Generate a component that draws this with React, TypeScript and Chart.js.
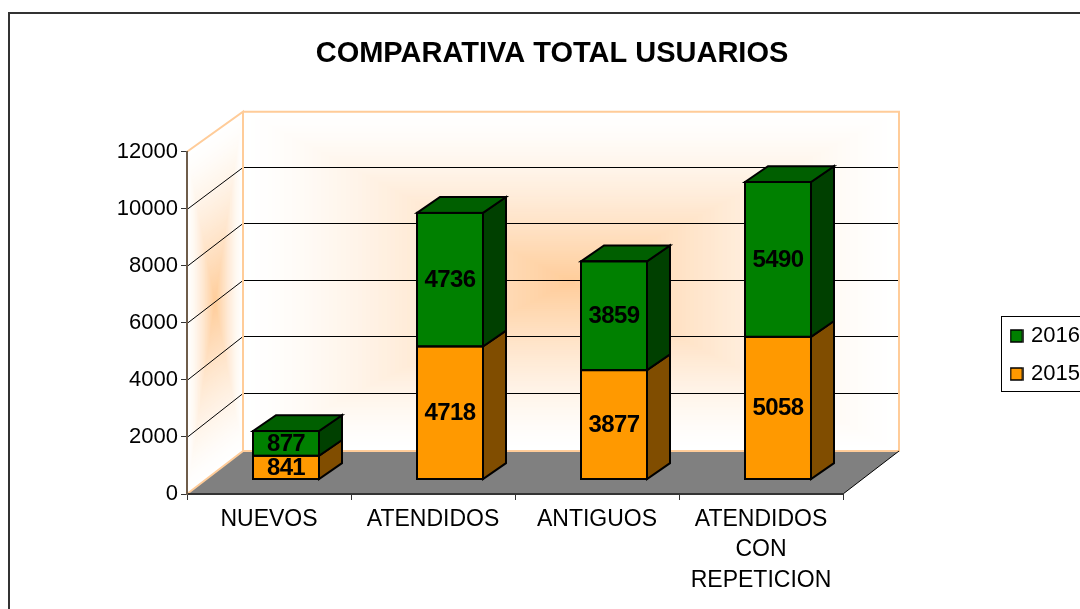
import React, { useEffect, useRef } from "react";
import { Chart, registerables } from "chart.js";

Chart.register(...registerables);

const categories = ["NUEVOS", "ATENDIDOS", "ANTIGUOS", ["ATENDIDOS", "CON", "REPETICION"]];
const values2015 = [841, 4718, 3877, 5058];
const values2016 = [877, 4736, 3859, 5490];
const yTicks = [0, 2000, 4000, 6000, 8000, 10000, 12000];
const titleText = "COMPARATIVA TOTAL USUARIOS";
const FONT = "'Liberation Sans', Arial, sans-serif";

const DEPTH_X = 56, DEPTH_BACK_FLOOR = 43, DEPTH_TOP = 40; // wall depth
const BAR_DX = 17, BAR_BASE_Y = 479.5, BAR_FORESHORTEN = 0.989, BAR_DEPTH_X = 23, BAR_DEPTH_Y = 16;

function rectGradient(ctx: CanvasRenderingContext2D, w: number, h: number, falloff: number) {
  // rectangular "from centre" gradient painted in a local w×h box
  const steps = 80;
  for (let i = 0; i <= steps; i++) {
    const t = i / steps; // 0 = edge, 1 = centre
    const k = Math.pow(t, falloff);
    const g = Math.round(255 + (204 - 255) * k);
    const b = Math.round(255 + (153 - 255) * k);
    ctx.fillStyle = `rgb(255,${g},${b})`;
    const ix = (w / 2) * t, iy = (h / 2) * t;
    ctx.fillRect(ix, iy, w - 2 * ix, h - 2 * iy);
  }
}

function swatch(color: string) {
  const c = document.createElement("canvas");
  c.width = 14; c.height = 14;
  const g = c.getContext("2d") as CanvasRenderingContext2D;
  g.fillStyle = color;
  g.fillRect(1, 1, 12, 12);
  g.strokeStyle = "#000";
  g.lineWidth = 1.5;
  g.strokeRect(1, 1, 12, 12);
  return c;
}

const scenePlugin = {
  id: "scene3d",
  afterLayout(chart: any) {
    const lg = chart.legend;
    if (lg) {
      lg.left = 997; lg.right = 1100; lg.top = 309; lg.bottom = 500;
    }
    const tt = chart.titleBlock;
    if (tt) {
      tt.left = 104; tt.right = 1000; tt.top = 37; tt.bottom = 71;
    }
  },
  beforeDraw(chart: any) {
    const ctx: CanvasRenderingContext2D = chart.ctx;
    const y = chart.scales.y, x = chart.scales.x;
    const L = x.left, R = x.right, y0 = y.getPixelForValue(0), yT = y.getPixelForValue(12000);
    const bL = L + DEPTH_X, bR = R + DEPTH_X, bB = y0 - DEPTH_BACK_FLOOR, bT = yT - DEPTH_TOP;
    const backY = (py: number) => bB - ((y0 - py) * (bB - bT)) / (y0 - yT);
    ctx.save();
    ctx.fillStyle = "#fff";
    ctx.fillRect(0, 0, chart.width, chart.height);
    // outer frame
    ctx.strokeStyle = "#333";
    ctx.lineWidth = 2;
    ctx.strokeRect(9, 13, 1300, 900);

    // back wall
    ctx.save();
    ctx.translate(bL, bT);
    rectGradient(ctx, bR - bL, bB - bT, 1.4);
    ctx.restore();
    // left wall
    ctx.save();
    ctx.beginPath();
    ctx.moveTo(L, yT); ctx.lineTo(bL, bT); ctx.lineTo(bL, bB); ctx.lineTo(L, y0); ctx.closePath();
    ctx.clip();
    ctx.transform(1, -41.5 / DEPTH_X, 0, 1, L, yT);
    rectGradient(ctx, DEPTH_X, y0 - yT, 1.4);
    ctx.restore();

    // gridlines through the y scale
    ctx.strokeStyle = "#000";
    ctx.lineWidth = 1;
    for (const v of yTicks) {
      if (v === 0 || v === 12000) continue;
      const py = Math.round(y.getPixelForValue(v));
      const by = Math.round(backY(py) - 1.5) + 0.5;
      ctx.beginPath();
      ctx.moveTo(L, py + 0.5);
      ctx.lineTo(bL, by);
      ctx.lineTo(bR, by);
      ctx.stroke();
    }

    // floor
    ctx.fillStyle = "#808080";
    ctx.beginPath();
    ctx.moveTo(L, y0); ctx.lineTo(bL, bB); ctx.lineTo(bR, bB); ctx.lineTo(R, y0); ctx.closePath();
    ctx.fill();

    // wall edges
    ctx.strokeStyle = "#FFCC99";
    ctx.lineWidth = 2;
    ctx.beginPath();
    ctx.moveTo(L, y0); ctx.lineTo(bL, bB); ctx.lineTo(bL, bT); ctx.lineTo(L, yT);
    ctx.moveTo(bL, bT); ctx.lineTo(bR, bT); ctx.lineTo(bR, bB); ctx.lineTo(bL, bB);
    ctx.stroke();
    ctx.strokeStyle = "#000";
    ctx.lineWidth = 1;
    ctx.beginPath();
    ctx.moveTo(R, y0); ctx.lineTo(bR, bB);
    ctx.stroke();

    // legend frame
    ctx.fillStyle = "#fff";
    ctx.fillRect(1001, 316, 100, 75);
    ctx.strokeStyle = "#000";
    ctx.lineWidth = 1;
    ctx.strokeRect(1001.5, 316.5, 100, 75);
    ctx.restore();
  },
  beforeDatasetsDraw(chart: any) {
    const ctx: CanvasRenderingContext2D = chart.ctx;
    const y0 = chart.scales.y.getPixelForValue(0);
    ctx.save();
    // bars stand part way into the floor: shifted back and slightly foreshortened
    ctx.translate(BAR_DX, BAR_BASE_Y);
    ctx.scale(1, BAR_FORESHORTEN);
    ctx.translate(0, -y0);
  },
  afterDatasetsDraw(chart: any) {
    const ctx: CanvasRenderingContext2D = chart.ctx;
    const last = chart.data.datasets.length - 1;
    ctx.strokeStyle = "#000";
    ctx.lineWidth = 2;
    ctx.lineJoin = "miter";
    chart.data.datasets.forEach((ds: any, di: number) => {
      chart.getDatasetMeta(di).data.forEach((bar: any) => {
        const { x, y, base, width } = bar.getProps(["x", "y", "base", "width"], true);
        const r = x + width / 2, l = x - width / 2;
        // right face
        ctx.fillStyle = ds.sideColor;
        ctx.beginPath();
        ctx.moveTo(r, y); ctx.lineTo(r + BAR_DEPTH_X, y - BAR_DEPTH_Y);
        ctx.lineTo(r + BAR_DEPTH_X, base - BAR_DEPTH_Y); ctx.lineTo(r, base);
        ctx.closePath(); ctx.fill(); ctx.stroke();
        // top face
        if (di === last) {
          ctx.fillStyle = ds.topColor;
          ctx.beginPath();
          ctx.moveTo(l, y); ctx.lineTo(l + BAR_DEPTH_X, y - BAR_DEPTH_Y);
          ctx.lineTo(r + BAR_DEPTH_X, y - BAR_DEPTH_Y); ctx.lineTo(r, y);
          ctx.closePath(); ctx.fill(); ctx.stroke();
        }
        // front outline, centred on the bar's edge
        ctx.strokeRect(l, y, width, base - y);
      });
    });
    // value labels
    ctx.fillStyle = "#000";
    ctx.font = `bold 24px ${FONT}`;
    (ctx as any).letterSpacing = "-0.6px";
    ctx.textAlign = "center";
    ctx.textBaseline = "middle";
    chart.data.datasets.forEach((ds: any, di: number) => {
      chart.getDatasetMeta(di).data.forEach((bar: any, i: number) => {
        const { x, y, base } = bar.getProps(["x", "y", "base"], true);
        ctx.fillText(String(ds.data[i]), x, (y + base) / 2 + 1);
      });
    });
    (ctx as any).letterSpacing = "0px";
    ctx.restore();
  },
};

export default function App() {
  const ref = useRef<HTMLCanvasElement>(null);
  useEffect(() => {
    document.body.style.margin = "0";
    document.body.style.overflow = "hidden";
    const chart = new Chart(ref.current as HTMLCanvasElement, {
      type: "bar",
      data: {
        labels: categories as any,
        datasets: [
          { label: "2015", data: values2015, backgroundColor: "#FF9900", borderWidth: 0, inflateAmount: 0, sideColor: "#804D00", topColor: "#804D00" } as any,
          { label: "2016", data: values2016, backgroundColor: "#008000", borderWidth: 0, inflateAmount: 0, sideColor: "#004000", topColor: "#005F00" } as any,
        ],
      },
      options: {
        responsive: false,
        animation: false,
        layout: { padding: { left: 0, right: 237, top: 117, bottom: 0 } },
        datasets: { bar: { barPercentage: 0.503, categoryPercentage: 0.8 } },
        plugins: {
          tooltip: { enabled: false },
          title: {
            display: true,
            text: titleText,
            color: "#000",
            font: { family: FONT, size: 29, weight: "bold", lineHeight: 1.2 },
            padding: 0,
          },
          legend: {
            display: true,
            position: "chartArea",
            align: "start",
            reverse: true,
            labels: {
              color: "#000",
              font: { family: FONT, size: 22 },
              usePointStyle: true,
              pointStyleWidth: 7,
              boxWidth: 7,
              boxHeight: 13,
              padding: 16,
              generateLabels(chart: any) {
                return chart.data.datasets.map((d: any, i: number) => ({
                  text: d.label,
                  fillStyle: d.backgroundColor,
                  strokeStyle: "#000",
                  lineWidth: 1.5,
                  pointStyle: swatch(d.backgroundColor),
                  datasetIndex: i,
                  fontColor: "#000",
                }));
              },
            },
          },
        },
        scales: {
          x: {
            stacked: true,
            afterFit(s: any) { s.height = 115; },
            grid: { drawOnChartArea: false, drawTicks: true, tickLength: 6, color: "#333", lineWidth: 1 },
            border: { color: "#333", width: 2 },
            ticks: { color: "#000", font: { family: FONT, size: 23, lineHeight: 1.33 }, padding: 4, maxRotation: 0, autoSkip: false },
          },
          y: {
            stacked: true,
            min: 0,
            max: 12000,
            afterFit(s: any) { s.width = 187; },
            afterBuildTicks(s: any) { s.ticks = yTicks.map((value) => ({ value })); },
            grid: { drawOnChartArea: false, drawTicks: true, tickLength: 6, color: "#333", lineWidth: 1 },
            border: { color: "#6f5d4b", width: 2 },
            ticks: { color: "#000", font: { family: FONT, size: 22 }, padding: 3, callback: (v: any) => String(v) },
          },
        },
      } as any,
      plugins: [scenePlugin as any],
    });
    return () => chart.destroy();
  }, []);
  return <canvas ref={ref} width={1080} height={609} style={{ display: "block" }} />;
}
